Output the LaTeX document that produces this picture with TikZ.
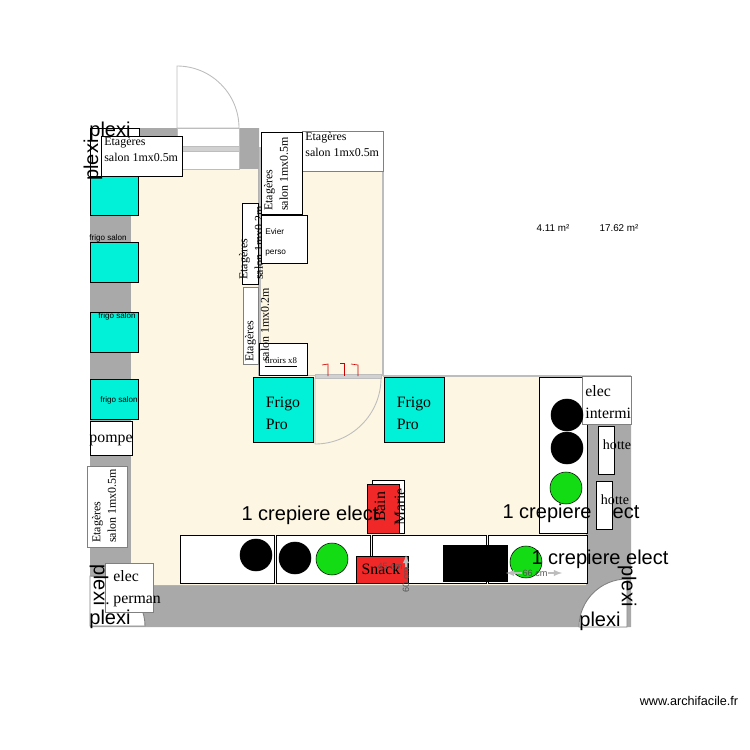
\documentclass[tikz,border=0pt]{standalone}
\usepackage{fontspec}
\setmainfont{Liberation Serif}
\setsansfont{Liberation Sans}
\usepackage{xcolor}
\definecolor{planWall}{HTML}{A9A9A9}
\definecolor{planFloor}{HTML}{FCF6E3}
\definecolor{planEdge}{HTML}{BDBDBD}
\definecolor{planCyan}{HTML}{00F0D8}
\definecolor{planGreen}{HTML}{14DC14}
\definecolor{planRed}{HTML}{F02828}
\definecolor{planDim}{HTML}{555555}
\usetikzlibrary{calc}
\tikzset{
    furniture/.style={
        draw=black,
        fill=white,
        line width=0.4pt
    },
    fridge/.style={
        draw=black,
        fill=planCyan,
        line width=0.4pt
    },
    redbox/.style={
        draw=black,
        fill=planRed,
        line width=0.3pt
    },
    door/.style={
        draw=planEdge,
        fill=white,
        line width=0.5pt
    },
    plate/.style={
        draw=black,
        fill=black,
        line width=0.3pt
    },
    greenplate/.style={
        draw=black,
        fill=planGreen,
        line width=0.3pt
    },
    bigtext/.style={
        font=\fontsize{11.4pt}{13pt}\sffamily,
        inner sep=0pt
    },
    shelftext/.style={
        font=\fontsize{6.8pt}{8.8pt}\rmfamily,
        align=left,
        inner sep=0pt
    },
    equiptext/.style={
        font=\fontsize{9pt}{12.5pt}\rmfamily,
        align=left,
        inner sep=0pt
    },
    smalltext/.style={
        font=\fontsize{4.6pt}{5.5pt}\sffamily,
        align=left,
        inner sep=0pt
    },
    dimtext/.style={
        font=\fontsize{5.2pt}{6pt}\sffamily,
        color=planDim,
        inner sep=0pt
    },
    dimarrow/.style={
        -latex,
        draw=planEdge,
        line width=0.6pt
    }
}
\begin{document}
\begin{tikzpicture}[x=0.02cm,y=-0.02cm]
    \useasboundingbox (0,0) rectangle (750,750);
    % Walls and floor
    \fill[planWall] (90,128) -- (259,128) -- (259,378) -- (631,378) -- (631,627) -- (90,627) -- cycle;
    \fill[planFloor] (131,169) -- (258,169) -- (258,380) -- (586,380) -- (586,585) -- (131,585) -- cycle;
    \fill[planFloor, draw=planEdge, line width=0.7pt] (260,148) -- (383,148) -- (383,376) -- (260,376) -- cycle;
    \fill[planFloor] (255,376) rectangle (539,382);
    \draw[planEdge, line width=0.7pt] (383,376) -- (631,376);

    % Doors
    \draw[door] (177,128) -- (177,66) arc[start angle=-90, end angle=0, radius=62] -- cycle;
    \draw[door] (177,128) rectangle (239,169);
    \draw[door, fill=planEdge!70] (177,146) rectangle (239,151);
    \draw[furniture] (90,128) rectangle (139,176);
    \draw[door, fill=planFloor] (381,378) arc[start angle=0, end angle=90, radius=66] -- (315,378) -- cycle;
    \draw[door, fill=planEdge!70] (315,374) rectangle (381,378);
    \draw[door, draw=gray] (627,627) -- (579,627) arc[start angle=180, end angle=270, radius=48] -- cycle;
    \draw[door, draw=gray] (90,576) arc[start angle=270, end angle=360, x radius=55, y radius=50] -- (90,626) -- cycle;
    \draw[red!80!black, line width=0.35pt] (322,365) -- (328,364) -- (328,376);
    \draw[red!80!black, line width=0.35pt] (340,363) -- (344,363) -- (344,376);
    \draw[red!80!black, line width=0.35pt] (351,364) -- (358,365) -- (358,376);

    % Fridges
    \draw[fridge] (90,176) rectangle (138,215);
    \draw[fridge] (90,242) rectangle (138,282);
    \draw[fridge] (90,312) rectangle (138,352);
    \draw[fridge] (90,379) rectangle (138,419);
    \draw[fridge] (253,377) rectangle (313,442);
    \draw[fridge] (384,377) rectangle (444,442);

    % Shelves
    \draw[furniture] (101,136) rectangle (182,176);
    \draw[furniture, draw=gray] (302,131) rectangle (383,171);
    \draw[furniture] (242,203) rectangle (258,284);
    \node[shelftext, rotate=90] (shelfd) at (251,243) {Etagères\\salon 1mx0.2m};
    \draw[furniture] (261,132) rectangle (302,214);
    \draw[furniture] (261,215) rectangle (307,263);
    \draw[furniture, draw=gray] (243,287) rectangle (258,364);
    \draw[furniture] (259,343) rectangle (307,375);
    \draw[furniture, draw=gray] (87,466) rectangle (127,547);
    \draw[furniture] (90,421) rectangle (132,455);
    \draw[furniture, draw=gray] (105,563) rectangle (153,612);

    % Cooking line
    \draw[furniture] (180,535) rectangle (274,583);
    \draw[furniture] (276,535) rectangle (370.5,583);
    \draw[furniture] (372.5,535) rectangle (486.5,583);
    \draw[furniture] (488.5,535) rectangle (587,583);
    \draw[furniture] (539,377) rectangle (587,533);
    \draw[furniture, draw=gray] (582,376) rectangle (631,424);
    \draw[furniture] (598,426) rectangle (614,474);
    \draw[furniture] (372,480) rectangle (404,533);
    \draw[redbox] (367,484) rectangle (399,533);
    \draw[redbox] (356,556) rectangle (408,583);
    \fill[black] (443,545) rectangle (508,582);
    \draw[plate] (567,415) circle (16);
    \draw[plate] (567,448) circle (16);
    \draw[greenplate] (566,488) circle (16);
    \draw[plate] (256,555) circle (16);
    \draw[plate] (295,558) circle (16);
    \draw[greenplate] (332,559) circle (16);
    \draw[greenplate] (526,562) circle (16);

    % Labels on shelves
    \node[shelftext, anchor=north west] (shelfa) at (104,137) {Etagères\\salon 1mx0.5m};
    \node[shelftext, anchor=north west] (shelfb) at (305,132) {Etagères\\salon 1mx0.5m};
    \node[shelftext, rotate=90] (shelfc) at (276,174) {Etagères\\salon 1mx0.5m};
    \node[shelftext, rotate=90] (shelfe) at (257,325) {Etagères\\salon 1mx0.2m};
    \node[shelftext, rotate=90] (shelff) at (104,506) {Etagères\\salon 1mx0.5m};
    \node[smalltext, anchor=north west, font=\fontsize{4.7pt}{11.4pt}\sffamily] (evier) at (265,228) {Evier\\perso};
    \node[smalltext, font=\fontsize{5pt}{6pt}\rmfamily] (tiroirs) at (281,361) {tiroirs x8};
    \draw[line width=0.4pt] ($(tiroirs.south west)+(0,2)$) -- ($(tiroirs.south east)+(0,2)$);

    % Labels on equipment
    \node[equiptext] (frigoa) at (283,413) {Frigo\\Pro};
    \node[equiptext] (frigob) at (414,413) {Frigo\\Pro};
    \node[equiptext] (pompe) at (111,440) {pompe};
    \node[equiptext, anchor=north west] (elecperman) at (113,570) {elec\\perman};
    \node[equiptext, anchor=north west] (elecintermi) at (585,385) {elec\\intermi};
    \node[equiptext, rotate=90] (bain) at (380,507) {Bain};
    \node[equiptext, rotate=90] (marie) at (400,507) {Marie};
    \node[equiptext] (snack) at (381,569) {Snack};

    % Small labels
    \node[smalltext] (frigosa) at (108,238) {frigo salon};
    \node[smalltext] (frigosb) at (117,316) {frigo salon};
    \node[smalltext] (frigosc) at (119,400) {frigo salon};
    \node[smalltext, font=\fontsize{5.6pt}{6pt}\sffamily] (aream) at (553,228) {4.11 m²};
    \node[smalltext, font=\fontsize{5.6pt}{6pt}\sffamily] (areab) at (619,228) {17.62 m²};
    \node[smalltext, font=\fontsize{7.2pt}{8pt}\sffamily] (site) at (689,701) {www.archifacile.fr};

    % Dimensions
    \node[dimtext] (dima) at (390,566) {45 cm};
    \node[dimtext, rotate=90] (dimb) at (406,580) {60 cm};
    \node[dimtext] (dimc) at (535,573) {66 cm};
    \coordinate (dimtop) at (406,555);
    \coordinate (dimleft) at (506,573);
    \coordinate (dimright) at (562,573);
    \draw[dimarrow] (dimb.east) -- (dimtop);
    \draw[dimarrow] (dimc.west) -- (dimleft);
    \draw[dimarrow] (dimc.east) -- (dimright);

    % Big labels
    \node[bigtext] (plexia) at (110,131) {plexi};
    \node[bigtext, rotate=90] (plexib) at (93,160) {plexi};
    \node[bigtext, rotate=-90] (plexic) at (99,585) {plexi};
    \node[bigtext] (plexid) at (110,619) {plexi};
    \node[bigtext] (plexie) at (600,621) {plexi};
    \node[bigtext, rotate=-90] (plexif) at (627,586) {plexi};
    \node[bigtext] (crepa) at (310,515) {1 crepiere elect};
    \node[bigtext] (crepb) at (571,513) {1 crepiere elect};
    \node[bigtext] (crepc) at (600,559) {1 crepiere elect};

    % Hood boxes stand over the text
    \draw[furniture] (596,481) rectangle (612,529);
    \node[equiptext, font=\fontsize{8pt}{9pt}\rmfamily] (hottea) at (617,445) {hotte};
    \node[equiptext, font=\fontsize{8pt}{9pt}\rmfamily] (hotteb) at (615,500) {hotte};
\end{tikzpicture}
\end{document}
